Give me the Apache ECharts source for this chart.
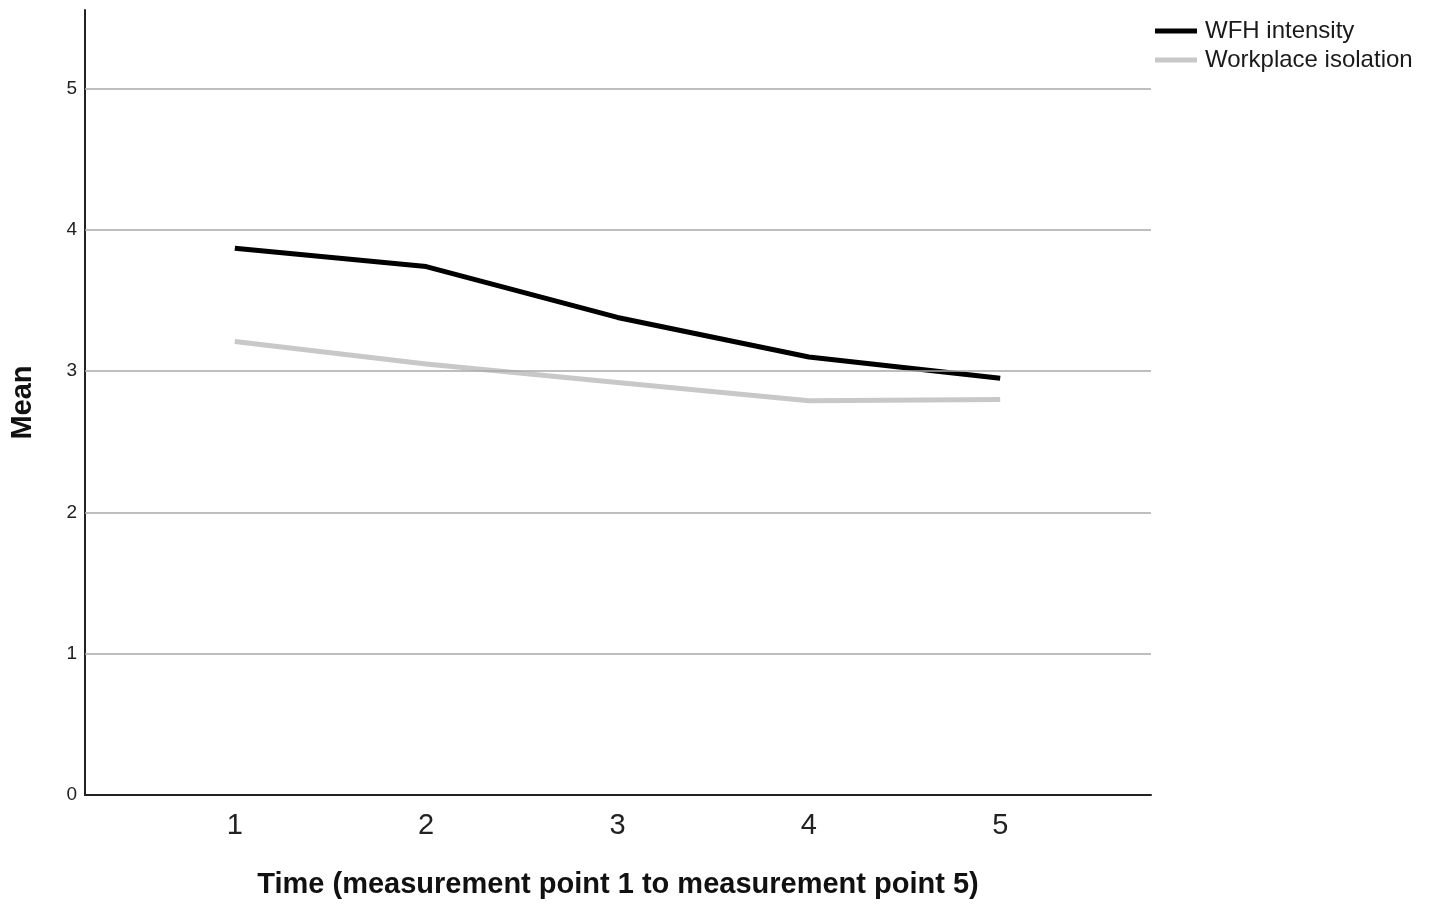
<!DOCTYPE html>
<html>
<head>
<meta charset="utf-8">
<script src="https://cdn.jsdelivr.net/npm/echarts@6/dist/echarts.min.js"></script>
<style>html,body{margin:0;padding:0;background:#fff;}#c{width:1429px;height:909px;}</style>
</head>
<body>
<div id="c"></div>
<script>
const timePoints = [1, 2, 3, 4, 5];
const wfhIntensity = [3.87, 3.74, 3.38, 3.10, 2.95];
const workplaceIsolation = [3.21, 3.05, 2.92, 2.79, 2.80];
const yTicks = [0, 1, 2, 3, 4, 5];
const gridValues = [1, 2, 3, 4, 5];
const seriesNames = ['WFH intensity', 'Workplace isolation'];

const font = '"Liberation Sans", Arial, sans-serif';
const chart = echarts.init(document.getElementById('c'));
chart.setOption({
  animation: false,
  backgroundColor: '#fff',
  grid: { left: 84, right: 278, top: 10, bottom: 114, containLabel: false },
  legend: {
    orient: 'vertical', left: 1155, top: 19, padding: 0,
    data: seriesNames,
    icon: 'rect', itemWidth: 42, itemHeight: 5, itemGap: 5,
    textStyle: { fontFamily: font, fontSize: 24, color: '#1a1a1a', padding: [0, 0, 0, 3] }
  },
  xAxis: {
    type: 'value', min: 0.217, max: 5.788,
    name: 'Time (measurement point 1 to measurement point 5)',
    nameLocation: 'middle', nameGap: 75,
    nameTextStyle: { fontFamily: font, fontSize: 29, fontWeight: 'bold', color: '#111' },
    axisLine: { show: true, onZero: false, lineStyle: { color: '#222', width: 2 } },
    axisTick: { show: false },
    splitLine: { show: false },
    axisLabel: { customValues: timePoints, fontFamily: font, fontSize: 29, color: '#222', margin: 16 }
  },
  yAxis: {
    type: 'value', min: 0, max: 5.556,
    name: 'Mean', nameLocation: 'middle', nameGap: 48, nameRotate: 90,
    nameTextStyle: { fontFamily: font, fontSize: 29, fontWeight: 'bold', color: '#111' },
    axisLine: { show: true, lineStyle: { color: '#222', width: 2 } },
    axisTick: { show: false },
    splitLine: { show: false },
    axisLabel: { customValues: yTicks, fontFamily: font, fontSize: 19, color: '#222', margin: 8 }
  },
  series: [
    {
      name: 'grid', type: 'line', data: [], z: 1, silent: true,
      markLine: {
        silent: true, symbol: ['none', 'none'], label: { show: false },
        lineStyle: { color: '#a8a8a8', width: 1.5, type: 'solid' },
        data: gridValues.map(v => ({ yAxis: v }))
      }
    },
    {
      name: seriesNames[1], type: 'line', z: 3, showSymbol: false,
      data: timePoints.map((t, i) => [t, workplaceIsolation[i]]),
      lineStyle: { color: '#c8c8c8', width: 5, cap: 'butt', join: 'round' },
      itemStyle: { color: '#c8c8c8' }
    },
    {
      name: seriesNames[0], type: 'line', z: 4, showSymbol: false,
      data: timePoints.map((t, i) => [t, wfhIntensity[i]]),
      lineStyle: { color: '#000', width: 5, cap: 'butt', join: 'round' },
      itemStyle: { color: '#000' }
    }
  ]
});
</script>
</body>
</html>
